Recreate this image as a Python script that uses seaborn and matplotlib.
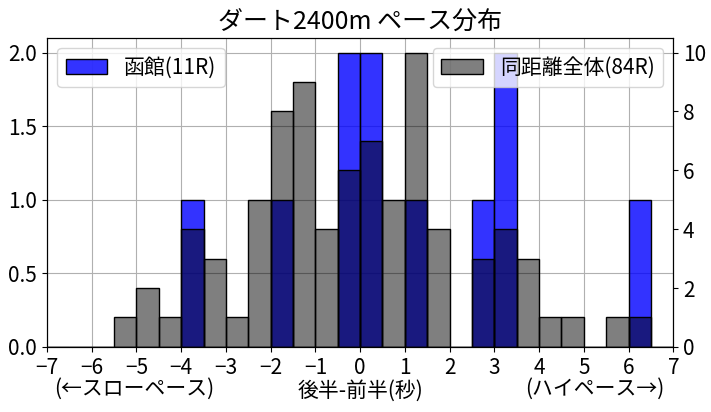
import numpy as np
import pandas as pd
import matplotlib
matplotlib.use("Agg")
import matplotlib.pyplot as plt
import seaborn as sns

plt.rcParams['font.family'] = ['Noto Sans CJK JP', 'DejaVu Sans']
plt.rcParams['axes.unicode_minus'] = True

# bin edges (width 0.5) from -7 to 7
bin_edges = [-7.0 + 0.5 * i for i in range(29)]

# 函館 (11R) counts per bin, left axis
hakodate_counts = [0, 0, 0, 0, 0, 0, 1, 0, 0, 0, 1, 0, 0, 2,
                   2, 0, 1, 0, 0, 1, 2, 0, 0, 0, 0, 0, 1, 0]
# 同距離全体 (84R) counts per bin, right axis
all_counts = [0, 0, 0, 1, 2, 1, 4, 3, 1, 5, 8, 9, 4, 6,
              7, 5, 10, 4, 0, 3, 4, 3, 1, 1, 0, 1, 1, 0]

title = "ダート2400m ペース分布"
label_local = "函館(11R)"
label_all = "同距離全体(84R)"
xlabel = "後半-前半(秒)"
left_note = "(←スローペース)"
right_note = "(ハイペース→)"

centers = [e + 0.25 for e in bin_edges[:-1]]
df_local = pd.DataFrame({"x": centers, "w": hakodate_counts})
df_all = pd.DataFrame({"x": centers, "w": all_counts})

fig = plt.figure(figsize=(7.11, 4.12), dpi=100)
ax1 = fig.add_axes([0.066, 0.158, 0.881, 0.750])
ax1.grid(True, color="#b0b0b0", linewidth=0.8)
ax1.set_axisbelow(True)
sns.histplot(data=df_local, x="x", weights="w", bins=bin_edges, ax=ax1,
             color="blue", alpha=0.8, edgecolor="black", linewidth=1.0,
             label=label_local)
ax2 = ax1.twinx()
sns.histplot(data=df_all, x="x", weights="w", bins=bin_edges, ax=ax2,
             color="black", alpha=0.5, edgecolor="black", linewidth=1.0,
             label=label_all)

ax1.set_xlim(-7, 7)
ax1.set_xticks(range(-7, 8))
ax1.set_ylim(0, 2.1)
ax1.set_yticks([0, 0.5, 1.0, 1.5, 2.0])
ax1.set_yticklabels(["0.0", "0.5", "1.0", "1.5", "2.0"])
ax2.set_ylim(0, 10.5)
ax2.set_yticks([0, 2, 4, 6, 8, 10])
ax1.set_ylabel("")
ax2.set_ylabel("")
ax1.tick_params(labelsize=15)
ax2.tick_params(labelsize=15)
ax1.set_xlabel(xlabel, fontsize=15, labelpad=1)
ax1.text(0.14, -0.135, left_note, transform=ax1.transAxes, fontsize=15,
         ha="center", va="center")
ax1.text(0.875, -0.135, right_note, transform=ax1.transAxes, fontsize=15,
         ha="center", va="center")
ax1.set_title(title, fontsize=18)
ax1.legend(loc="upper left", fontsize=15)
ax2.legend(loc="upper right", fontsize=15)

fig.savefig("out.png", dpi=100)
